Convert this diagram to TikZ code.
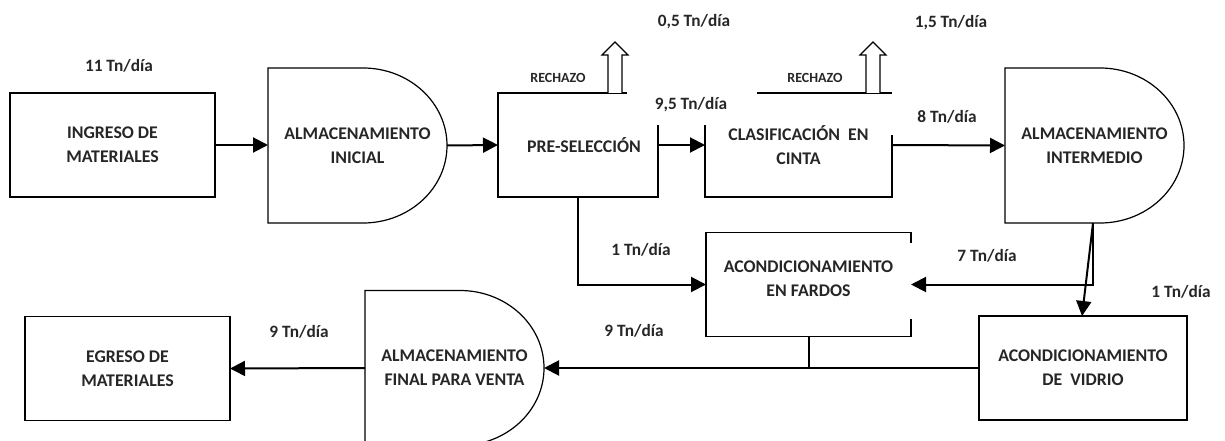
\documentclass[tikz,border=0pt]{standalone}
\usepackage{fontspec}
\setmainfont{Carlito}
\usetikzlibrary{arrows.meta,calc}

\tikzset{
  caja/.style={minimum width=205pt, minimum height=104pt, align=center, inner sep=0pt, outer sep=0pt},
  almacen/.style={minimum width=179pt, minimum height=155pt, align=center, inner sep=0pt, outer sep=0pt},
  borde/.style={line width=1.2pt},
  flujo/.style={line width=2pt, -{Triangle[length=15pt,width=15pt]}},
  dato/.style={inner sep=1pt, font=\fontsize{17.3}{20}\selectfont\bfseries},
  rechazo/.style={inner sep=1pt, font=\fontsize{14}{16}\selectfont\bfseries},
  hueca/.style={line width=1.2pt, fill=white, line join=miter},
}

\begin{document}
\begin{tikzpicture}[x=1pt, y=-1pt, font=\fontsize{17.8}{24}\selectfont\bfseries, text=black!85]
  \useasboundingbox (0,0) rectangle (1225,441);

  % cajas
  \node[caja, draw, borde] (ing) at (112.5,145) {INGRESO DE\\MATERIALES};
  \node[almacen] (ini) at (357.5,145.5) {ALMACENAMIENTO\\INICIAL};
  \node[caja, minimum width=160pt] (pre) at (578,145) {\hspace*{12pt}PRE-SELECCIÓN};
  \node[caja, minimum width=187pt] (cla) at (798.5,145) {CLASIFICACIÓN\ \ EN\\CINTA};
  \node[almacen] (int) at (1094.5,145.5) {ALMACENAMIENTO\\INTERMEDIO};
  \node[caja, text depth=12pt] (far) at (808.5,284.5) {ACONDICIONAMIENTO\\EN FARDOS};
  \node[caja, draw, borde, minimum width=208pt] (vid) at (1083,368) {ACONDICIONAMIENTO\\DE\ \ VIDRIO};
  \node[almacen] (fin) at (454.5,368) {ALMACENAMIENTO\\FINAL PARA VENTA};
  \node[caja, draw, borde] (egr) at (127.5,368.5) {EGRESO DE\\MATERIALES};

  % almacenes en forma de D
  \foreach \n in {ini,int,fin}
    \draw[borde] (\n.north west) -- ++(95,0)
      arc[start angle=-90, end angle=90, x radius=84, y radius=77.5] -- (\n.south west) -- cycle;

  % bordes abiertos
  \draw[borde] ([xshift=129pt]pre.north west) -- (pre.north west) -- (pre.south west)
    -- (pre.south east) -- ([yshift=-32pt]pre.north east);
  \draw[borde] ([xshift=52pt]cla.north west) -- (cla.north east);
  \draw[borde] ([yshift=-42pt]cla.north east) -- (cla.south east) -- (cla.south west)
    -- ([yshift=-32pt]cla.north west);
  \draw[borde] ([yshift=-10pt]far.north east) -- (far.north east) -- (far.north west)
    -- (far.south west) -- (far.south east) -- ([yshift=18pt]far.south east);

  % rechazos
  \foreach \x in {615,873}
    \draw[hueca] ({\x-7},93) -- ({\x-7},55) -- ({\x-13},55) -- (\x,42)
      -- ({\x+13},55) -- ({\x+7},55) -- ({\x+7},93);
  \node[rechazo] (r1) at (558,78) {RECHAZO};
  \node[rechazo] (r2) at (815,78) {RECHAZO};

  % flujos
  \draw[flujo] (ing.east) -- (ini.west |- ing.east);
  \draw[flujo] (ini.east) -- (pre.west);
  \draw[flujo] (pre.east) -- (cla.west);
  \draw[flujo] (cla.east) -- (int.west);
  \draw[flujo] (pre.south) |- (far.west);
  \coordinate (salida) at ($(int.south west)+(88,0)$);
  \draw[flujo] (salida) |- (far.east);
  \draw[flujo] (salida) -- ([xshift=-1pt]vid.north);
  \draw[line width=2pt] (far.south) -- (far.south |- vid.west);
  \draw[flujo] (vid.west) -- (fin.east);
  \draw[flujo] (fin.west) -- (egr.east);

  % caudales
  \node[dato] (c11) at (119,66) {11 Tn/día};
  \node[dato] (c05) at (694,22) {0,5 Tn/día};
  \node[dato] (c95) at (691,105) {9,5 Tn/día};
  \node[dato] (c15) at (951,23) {1,5 Tn/día};
  \node[dato] (c8) at (947,117) {8 Tn/día};
  \node[dato] (c1a) at (641,250) {1 Tn/día};
  \node[dato] (c7) at (987,256) {7 Tn/día};
  \node[dato] (c1b) at (1181,292) {1 Tn/día};
  \node[dato] (c9a) at (634,331) {9 Tn/día};
  \node[dato] (c9b) at (299,332) {9 Tn/día};
\end{tikzpicture}
\end{document}
